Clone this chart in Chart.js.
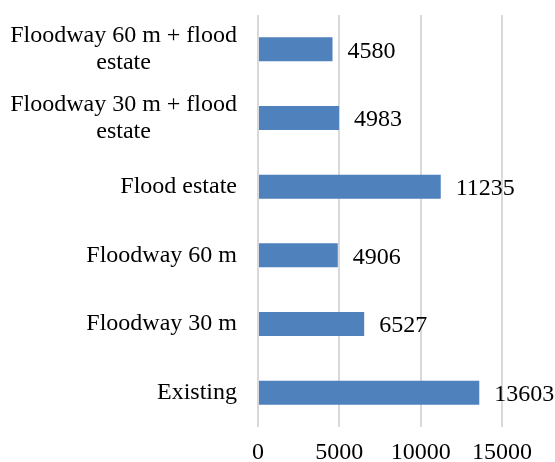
<!DOCTYPE html>
<html>
<head>
<meta charset="utf-8">
<script src="https://cdn.jsdelivr.net/npm/chart.js@4/dist/chart.umd.min.js"></script>
<style>
  html, body { margin: 0; padding: 0; background: #fff; }
  #wrap { width: 555px; height: 462px; position: relative; }
</style>
</head>
<body>
<div id="wrap"><canvas id="chart"></canvas></div>
<script>
// categories, top to bottom
var categories = [
    ['Floodway 60 m + flood', 'estate'],
    ['Floodway 30 m + flood', 'estate'],
    'Flood estate',
    'Floodway 60 m',
    'Floodway 30 m',
    'Existing'
];
var values = [4580, 4983, 11235, 4906, 6527, 13603];
var xTicks = [0, 5000, 10000, 15000];

var FONT = '"Liberation Serif", "Times New Roman", serif';
var FONT_SIZE = 24;

// y labels: single lines right-aligned, wrapped lines centred under the widest line (like Excel)
var yLabelPlugin = {
    id: 'yLabels',
    afterDraw: function(chart) {
        var ctx = chart.ctx;
        var yScale = chart.scales.y;
        var right = chart.chartArea.left - 21;
        var lh = 27;
        ctx.save();
        ctx.font = FONT_SIZE + 'px ' + FONT;
        ctx.fillStyle = '#000';
        ctx.textAlign = 'center';
        ctx.textBaseline = 'middle';
        categories.forEach(function(lab, i) {
            var lines = Array.isArray(lab) ? lab : [lab];
            var w = 0;
            lines.forEach(function(l) { w = Math.max(w, ctx.measureText(l).width); });
            var cx = right - w / 2;
            var cy = yScale.getPixelForValue(i);
            var y0 = cy - (lines.length - 1) * lh / 2;
            lines.forEach(function(l, j) {
                ctx.fillText(l, cx, y0 + j * lh);
            });
        });
        ctx.restore();
    }
};

// value labels at the end of each bar
var valueLabelPlugin = {
    id: 'valueLabels',
    afterDatasetsDraw: function(chart) {
        var ctx = chart.ctx;
        var meta = chart.getDatasetMeta(0);
        ctx.save();
        ctx.font = FONT_SIZE + 'px ' + FONT;
        ctx.fillStyle = '#000';
        ctx.textAlign = 'left';
        ctx.textBaseline = 'middle';
        meta.data.forEach(function(bar, i) {
            ctx.fillText(String(values[i]), bar.x + 15, bar.y + 2);
        });
        ctx.restore();
    }
};

new Chart(document.getElementById('chart'), {
    type: 'bar',
    data: {
        labels: categories,
        datasets: [{
            data: values,
            backgroundColor: '#4f81bd',
            borderWidth: 0,
            barPercentage: 0.35,
            categoryPercentage: 1
        }]
    },
    options: {
        indexAxis: 'y',
        responsive: true,
        maintainAspectRatio: false,
        animation: false,
        layout: { padding: { top: 15, right: 53, bottom: 0, left: 0 } },
        plugins: {
            legend: { display: false },
            tooltip: { enabled: false }
        },
        scales: {
            x: {
                min: 0,
                max: 15000,
                afterBuildTicks: function(scale) {
                    scale.ticks = xTicks.map(function(v) { return { value: v }; });
                },
                afterFit: function(scale) { scale.height = 35; },
                grid: { color: '#d9d9d9', lineWidth: 2, drawTicks: false },
                border: { display: false },
                ticks: {
                    padding: 15,
                    color: '#000',
                    font: { family: FONT, size: FONT_SIZE, lineHeight: 0.9 },
                    callback: function(v) { return String(v); }
                }
            },
            y: {
                grid: { display: false, drawTicks: false },
                border: { display: false },
                afterFit: function(scale) { scale.width = 258; },
                ticks: { display: false }
            }
        }
    },
    plugins: [yLabelPlugin, valueLabelPlugin]
});
</script>
</body>
</html>
